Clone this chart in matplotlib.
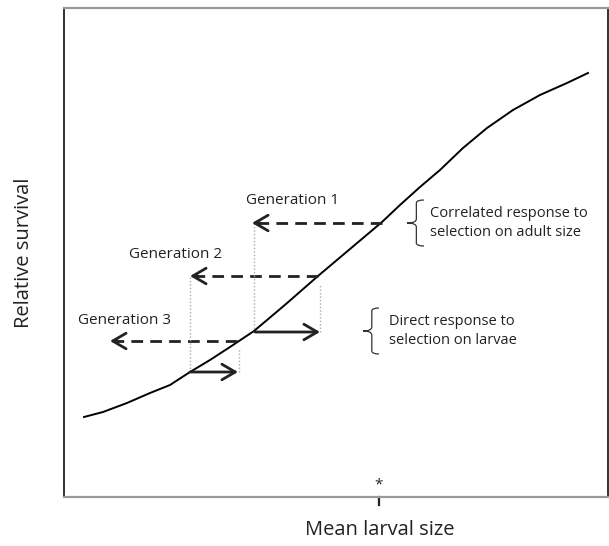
import matplotlib.pyplot as plt
from matplotlib.path import Path
from matplotlib.patches import PathPatch

plt.rcParams['font.family'] = ['Open Sans', 'DejaVu Sans']

# survival curve (x = px from left spine, y = px up from bottom spine)
curve_x = [20, 39, 63, 86, 106, 126, 146, 166, 190, 222, 254, 286, 318, 336, 356, 376, 399, 423, 449, 476, 503, 524]
curve_y = [80, 85, 94, 104, 112, 125, 137, 150, 166, 193, 221, 248, 275, 292, 310, 327, 349, 369, 387, 402, 414, 424]

# generations: (start x on curve, arrow tip x, y level)
gen_labels = ['Generation 1', 'Generation 2', 'Generation 3']
gen_start = [318, 254, 173]
gen_tip = [188, 126, 46]
gen_y = [274, 221, 156]
gen_label_x = [229, 112, 61]
gen_label_y = [297, 242, 177]

# direct response arrows (solid)
direct_x0 = [191, 126]
direct_x1 = [256, 174]
direct_y = [165, 125]

# dotted guides: (x, y bottom, y top)
guide_x = [190, 126, 256, 175]
guide_y0 = [165, 125, 165, 125]
guide_y1 = [274, 221, 212, 149]

brace_text = ['Correlated response to\nselection on adult size',
              'Direct response to\nselection on larvae']
star_x = 315

fig = plt.figure(figsize=(6.09, 5.46), dpi=100)
ax = fig.add_axes([64 / 609, 49 / 546, 544 / 609, 489 / 546])
ax.set_xlim(0, 544)
ax.set_ylim(0, 489)
ax.set_xticks([])
ax.set_yticks([])
for s in ['left', 'right']:
    ax.spines[s].set_color('#222222')
    ax.spines[s].set_linewidth(1.3)
for s in ['top', 'bottom']:
    ax.spines[s].set_color('#999999')
    ax.spines[s].set_linewidth(1.6)

ax.plot(curve_x, curve_y, color='black', lw=1.4)

head = '->,head_length=0.6,head_width=0.35'
for i in range(3):
    ax.plot([gen_start[i], gen_tip[i] + 4], [gen_y[i], gen_y[i]], color='#222222',
            lw=2.0, dashes=(4.2, 2.6))
    ax.annotate('', xy=(gen_tip[i], gen_y[i]), xytext=(gen_tip[i] + 8, gen_y[i]),
                arrowprops=dict(arrowstyle=head, color='#222222', lw=2.0,
                                mutation_scale=16, shrinkA=0, shrinkB=0))
    ax.text(gen_label_x[i], gen_label_y[i], gen_labels[i], fontsize=11,
            ha='center', va='center', color='#222222')

for i in range(2):
    ax.annotate('', xy=(direct_x1[i], direct_y[i]), xytext=(direct_x0[i], direct_y[i]),
                arrowprops=dict(arrowstyle=head, color='#222222', lw=2.0,
                                mutation_scale=16, shrinkA=0, shrinkB=0))

for i in range(4):
    ax.plot([guide_x[i], guide_x[i]], [guide_y0[i], guide_y1[i]], color='#aaaaaa',
            lw=1.0, ls=(0, (1, 1.5)))


def brace(x, yc, h, w):
    # left-opening curly brace, tip at (x, yc)
    xm = x + w * 0.55
    xe = x + w
    verts = [(xe, yc + h), (xm, yc + h), (xm, yc + h - 3), (xm, yc + 4),
             (xm, yc), (x, yc), (x, yc),
             (xm, yc), (xm, yc - 4), (xm, yc - h + 3),
             (xm, yc - h), (xe, yc - h)]
    codes = [Path.MOVETO, Path.CURVE3, Path.CURVE3, Path.LINETO,
             Path.CURVE3, Path.CURVE3, Path.MOVETO,
             Path.CURVE3, Path.CURVE3, Path.LINETO,
             Path.CURVE3, Path.CURVE3]
    ax.add_patch(PathPatch(Path(verts, codes), fill=False, color='#333333', lw=0.9))


brace(343, 274, 23, 17)
brace(299, 166, 23, 16)
ax.text(366, 274, brace_text[0], fontsize=10.5, ha='left', va='center',
        color='#222222', linespacing=1.3)
ax.text(325, 166, brace_text[1], fontsize=10.5, ha='left', va='center',
        color='#222222', linespacing=1.3)

ax.text(star_x, 12, '*', fontsize=11, ha='center', va='center', color='#222222')
ax.plot([star_x, star_x], [0, -8], color='#222222', lw=1.6, clip_on=False)

fig.text(380 / 609, 1 - 530 / 546, 'Mean larval size', fontsize=14.5,
         ha='center', va='center', color='#222222')
fig.text(24 / 609, 1 - 253 / 546, 'Relative survival', fontsize=14.5, rotation=90,
         ha='center', va='center', color='#222222')

fig.savefig('out.png', dpi=100)
